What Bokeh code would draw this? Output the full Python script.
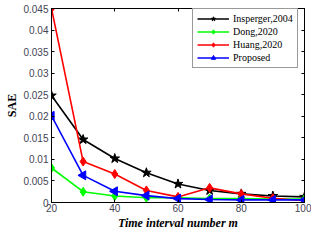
import math
from bokeh.plotting import figure
from bokeh.models import Range1d, LinearAxis, FixedTicker, Legend, CustomJSTickFormatter
from bokeh.embed import file_html
from bokeh.resources import INLINE

intervals = [20, 30, 40, 50, 60, 70, 80, 90, 100]
insperger = [0.0248, 0.0146, 0.0102, 0.0069, 0.0043, 0.0028, 0.0020, 0.0015, 0.0013]
dong = [0.0080, 0.0025, 0.0015, 0.0011, 0.0011, 0.0009, 0.0009, 0.0008, 0.0008]
huang = [0.0450, 0.0095, 0.0066, 0.0028, 0.0013, 0.0034, 0.0020, 0.0010, 0.0004]
proposed = [0.0201, 0.0063, 0.0026, 0.0016, 0.0009, 0.0007, 0.0006, 0.0006, 0.0006]

x_ticks = [20, 40, 60, 80, 100]
y_ticks = [0, 0.005, 0.01, 0.015, 0.02, 0.025, 0.03, 0.035, 0.04, 0.045]
y_tick_labels = {0: "0", 0.005: "0.005", 0.01: "0.01", 0.015: "0.015", 0.02: "0.02",
                 0.025: "0.025", 0.03: "0.03", 0.035: "0.035", 0.04: "0.04", 0.045: "0.045"}

p = figure(width=311, height=232, output_backend="svg", toolbar_location=None,
           x_range=Range1d(20, 100), y_range=Range1d(0, 0.045))
p.min_border_left = 51
p.min_border_right = 7
p.min_border_top = 8
p.min_border_bottom = 27
p.xgrid.visible = False
p.ygrid.visible = False
p.outline_line_color = "black"
p.background_fill_color = "white"
p.border_fill_color = "white"

tick_color = "#444455"
for ax in (p.xaxis[0], p.yaxis[0]):
    ax.axis_line_color = "black"
    ax.major_tick_line_color = "black"
    ax.major_tick_in = 3
    ax.major_tick_out = 0
    ax.minor_tick_line_color = None
    ax.major_label_text_font = "Liberation Sans"
    ax.major_label_text_font_size = "10px"
    ax.major_label_text_color = tick_color
    ax.axis_label_text_font = "Liberation Serif"
    ax.axis_label_text_font_size = "12px"
    ax.axis_label_text_font_style = "bold"
    ax.axis_label_text_color = "black"

p.xaxis[0].ticker = FixedTicker(ticks=x_ticks)
p.yaxis[0].ticker = FixedTicker(ticks=y_ticks)
p.yaxis[0].major_label_overrides = y_tick_labels
p.xaxis[0].axis_label = "Time interval number m"
p.xaxis[0].axis_label_text_font_style = "bold italic"
p.xaxis[0].major_label_standoff = 1
p.xaxis[0].axis_label_standoff = 1
p.yaxis[0].axis_label = "SAE"
p.yaxis[0].major_label_standoff = 3
p.yaxis[0].axis_label_standoff = 1

blank = CustomJSTickFormatter(code="return ''")
top = LinearAxis(ticker=FixedTicker(ticks=x_ticks), formatter=blank)
right = LinearAxis(ticker=FixedTicker(ticks=y_ticks), formatter=blank)
for ax in (top, right):
    ax.major_tick_in = 3
    ax.major_tick_out = 0
    ax.minor_tick_line_color = None
    ax.major_label_standoff = 0
    ax.major_label_text_font_size = "0px"
    ax.axis_line_color = "black"
p.add_layout(top, "above")
p.add_layout(right, "right")

series = [
    ("Insperger,2004", insperger, "black", "star", 10, 0),
    ("Dong,2020", dong, "#00ff00", "diamond", 9, 0),
    ("Huang,2020", huang, "#ff0000", "diamond", 9, 0),
    ("Proposed", proposed, "#0000ff", "triangle", 9, math.pi / 2),
]
items = []
for name, ys, color, marker, size, angle in series:
    l = p.line(intervals, ys, line_color=color, line_width=1.6)
    s = p.scatter(intervals, ys, marker=marker, size=size, angle=angle,
                  fill_color=color, line_color=color)
    items.append((name, [l, s]))

legend = Legend(items=items, location=(141, 134))
legend.label_text_font = "Liberation Serif"
legend.label_text_font_size = "10px"
legend.label_text_color = "black"
legend.glyph_width = 32
legend.glyph_height = 11
legend.label_height = 11
legend.label_standoff = 4
legend.spacing = 2
legend.padding = 4
legend.margin = 0
legend.border_line_color = "#333333"
legend.border_line_width = 1
legend.background_fill_alpha = 1
p.add_layout(legend)

open("out.html", "w").write(file_html(p, INLINE))
